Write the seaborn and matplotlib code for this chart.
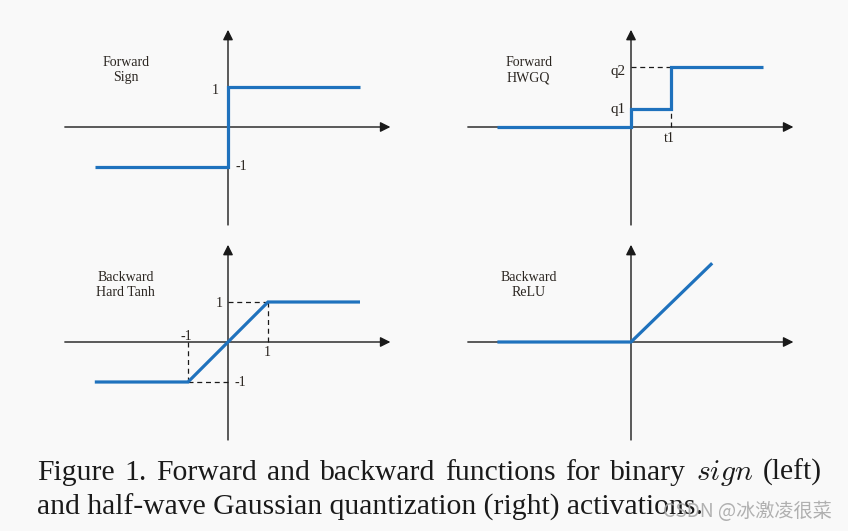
import matplotlib.pyplot as plt
import seaborn as sns

# curves in axis units (1 unit = the "1" mark)
sign_x = [-3.33, 0, 0, 3.3]
sign_y = [-1, -1, 1, 1]

hwgq_x = [-3.34, 0, 0, 1, 1, 3.31]
hwgq_y = [0, 0, 0.45, 0.45, 1.5, 1.5]

tanh_x = [-3.33, -1, 1, 3.3]
tanh_y = [-1, -1, 1, 1]

relu_x = [-3.34, 0, 2.03]
relu_y = [0, 0, 1.97]

titles = ["Forward\nSign", "Forward\nHWGQ", "Backward\nHard Tanh", "Backward\nReLU"]
caption = ["Figure 1. Forward and backward functions for binary $sign$ (left)",
           "and half-wave Gaussian quantization (right) activations."]
watermark = "CSDN @冰激凌很菜"

sns.set_style("white")
plt.rcParams["font.family"] = ["Liberation Serif", "DejaVu Serif"]
plt.rcParams["mathtext.fontset"] = "cm"

W, H = 848, 531
U = 40.0  # pixels per unit
BLUE = "#1f72bd"
AXC = "#1a1a1a"
TXT = "#2a2520"
BG = "#f9f9f9"
CAP_SIZE = 21.3

fig = plt.figure(figsize=(W / 100, H / 100), dpi=100, facecolor=BG)


def panel(ox, oy):
    ax = fig.add_axes([0, 0, 1, 1])
    ax.set_xlim(-ox / U, (W - ox) / U)
    ax.set_ylim(-(H - oy) / U, oy / U)
    ax.set_facecolor("none")
    ax.axis("off")
    arrow = dict(arrowstyle="-|>,head_length=0.5,head_width=0.25", lw=1.0,
                 color=AXC, shrinkA=0, shrinkB=0, mutation_scale=12)
    ax.annotate("", xy=(4.06, 0), xytext=(-4.08, 0), arrowprops=arrow)
    ax.annotate("", xy=(0, 2.43), xytext=(0, -2.45), arrowprops=arrow)
    return ax


def curve(ax, x, y):
    sns.lineplot(x=x, y=y, sort=False, estimator=None, ax=ax, color=BLUE,
                 lw=2.3, zorder=5, solid_joinstyle="miter", solid_capstyle="butt")


def dashed(ax, x, y):
    ax.plot(x, y, color=AXC, lw=0.9, ls=(0, (4, 3)), zorder=3)


def title(ax, s):
    ax.text(-2.56, 1.42, s, ha="center", va="center", fontsize=10,
            color=TXT, linespacing=1.2)


def lab(ax, s, x, y, ha="center", size=10):
    ax.text(x, y, s, ha=ha, va="baseline", fontsize=size, color=TXT)


# Forward Sign
ax = panel(228, 127)
curve(ax, sign_x, sign_y)
title(ax, titles[0])
lab(ax, "1", -0.33, 0.83)
lab(ax, "-1", 0.19, -1.08, ha="left")

# Forward HWGQ
ax = panel(631, 127)
curve(ax, hwgq_x, hwgq_y)
dashed(ax, [0, hwgq_x[3]], [hwgq_y[4], hwgq_y[4]])
dashed(ax, [hwgq_x[3], hwgq_x[3]], [0, hwgq_y[3]])
title(ax, titles[1])
lab(ax, "q2", -0.13, 1.29, ha="right", size=11)
lab(ax, "q1", -0.13, 0.34, ha="right", size=11)
lab(ax, "t1", 0.96, -0.37)

# Backward Hard Tanh
ax = panel(228, 342)
curve(ax, tanh_x, tanh_y)
dashed(ax, [tanh_x[1], 0], [tanh_y[1], tanh_y[1]])
dashed(ax, [tanh_x[1], tanh_x[1]], [tanh_y[1], 0])
dashed(ax, [0, tanh_x[2]], [tanh_y[2], tanh_y[2]])
dashed(ax, [tanh_x[2], tanh_x[2]], [0, tanh_y[2]])
title(ax, titles[2])
lab(ax, "-1", -1.05, 0.05)
lab(ax, "1", 0.97, -0.34)
lab(ax, "1", -0.23, 0.87)
lab(ax, "-1", 0.15, -1.09, ha="left")

# Backward ReLU
ax = panel(631, 342)
curve(ax, relu_x, relu_y)
title(ax, titles[3])

# caption: first line justified to the column width, second line ragged
renderer = fig.canvas.get_renderer()
x0, x1 = 36.7, 822.0
words = caption[0].split(" ")
pieces = [fig.text(0, 1 - 479.7 / H, w, ha="left", va="baseline",
                   fontsize=CAP_SIZE, color="#1a1a1a") for w in words]
widths = [p.get_window_extent(renderer).width for p in pieces]
gap = (x1 - x0 - sum(widths)) / (len(words) - 1)
x = x0
for p, w in zip(pieces, widths):
    p.set_x(x / W)
    x += w + gap

fig.text(x0 / W, 1 - 514.7 / H, caption[1], ha="left", va="baseline",
         fontsize=CAP_SIZE, color="#1a1a1a")
fig.text(832 / W, 1 - 511.5 / H, watermark, ha="right", va="center",
         fontsize=13.8, color="#a8a8a8", alpha=0.9,
         family=["Noto Sans CJK SC", "DejaVu Sans"])

fig.savefig("out.png", dpi=100, facecolor=BG)
